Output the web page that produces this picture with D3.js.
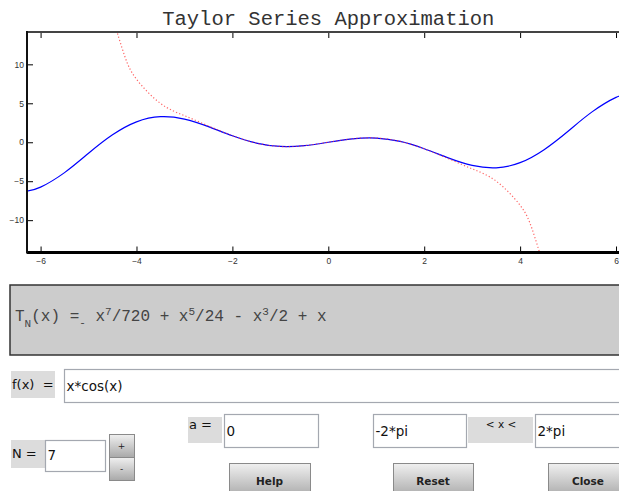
<!DOCTYPE html>
<html>
<head>
<meta charset="utf-8">
<script src="https://cdn.jsdelivr.net/npm/d3@7"></script>
<style>
  body { margin: 0; background: #fff; }
  svg { display: block; }
</style>
</head>
<body>
<svg id="chart" width="619" height="491"></svg>
<script>
// f(x) = x*cos(x)
const xs = [-6.283, -6, -5.5, -5, -4.5, -4, -3.5, -3, -2.5, -2, -1.5, -1, -0.5, 0,
            0.5, 1, 1.5, 2, 2.5, 3, 3.5, 4, 4.5, 5, 5.5, 6, 6.283];
const fVals = [-6.283, -5.761, -3.898, -1.418, 0.949, 2.615, 3.278, 2.970, 2.003, 0.832, -0.106, -0.540, -0.439, 0,
               0.439, 0.540, 0.106, -0.832, -2.003, -2.970, -3.278, -2.615, -0.949, 1.418, 3.898, 5.761, 6.283];

// Taylor polynomial T7
const txs = [-4.5, -4.25, -4, -3.5, -3, -2.5, -2, -1.5, -1, -0.5, 0,
             0.5, 1, 1.5, 2, 2.5, 3, 3.5, 4, 4.25, 4.5];
const tVals = [16.07, 11.14, 8.089, 4.989, 3.413, 2.091, 0.844, -0.105, -0.540, -0.439, 0,
               0.439, 0.540, 0.105, -0.844, -2.091, -3.413, -4.989, -8.089, -11.14, -16.07];

const xTicks = [-6, -4, -2, 0, 2, 4, 6];
const yTicks = [-10, -5, 0, 5, 10];
const xDomain = [-2 * Math.PI, 2 * Math.PI];
const yDomain = [-14.15, 14.15];

const title = 'Taylor Series Approximation';
const fText = 'x*cos(x)';
const nText = '7';
const aText = '0';
const loText = '-2*pi';
const hiText = '2*pi';

const svg = d3.select('#chart');
const pLeft = 27, pTop = 32, pRight = 629.6, pBottom = 252.5;

const x = d3.scaleLinear().domain(xDomain).range([pLeft, pRight]);
const y = d3.scaleLinear().domain(yDomain).range([pBottom, pTop]);

// gradient for buttons
const defs = svg.append('defs');
const grad = defs.append('linearGradient').attr('id', 'btn').attr('x1', 0).attr('y1', 0).attr('x2', 0).attr('y2', 1);
grad.append('stop').attr('offset', '0%').attr('stop-color', '#f0f0f0');
grad.append('stop').attr('offset', '100%').attr('stop-color', '#a8a8a8');
defs.append('clipPath').attr('id', 'plotclip')
  .append('rect').attr('x', pLeft).attr('y', pTop).attr('width', pRight - pLeft).attr('height', pBottom - pTop);

// title
svg.append('text')
  .attr('x', (pLeft + pRight) / 2).attr('y', 25)
  .attr('text-anchor', 'middle')
  .style('font-family', '"Liberation Mono", "Courier New", monospace')
  .style('font-size', '20.5px')
  .attr('fill', '#333')
  .text(title);

// curves
const line = d3.line().x(d => x(d[0])).y(d => y(d[1])).curve(d3.curveNatural);
const plot = svg.append('g').attr('clip-path', 'url(#plotclip)');
plot.append('path')
  .datum(xs.map((v, i) => [v, fVals[i]]))
  .attr('d', line)
  .attr('fill', 'none')
  .attr('stroke', '#0000ff')
  .attr('stroke-width', 1.2);
plot.append('path')
  .datum(txs.map((v, i) => [v, tVals[i]]))
  .attr('d', line)
  .attr('fill', 'none')
  .attr('stroke', '#ff3030')
  .attr('stroke-opacity', 0.75)
  .attr('stroke-width', 1.2)
  .attr('stroke-dasharray', '1.2,2.2');

// axes
const tickFont = g => g.selectAll('text')
  .style('font-family', '"Liberation Sans", Arial, sans-serif')
  .style('font-size', '8.5px')
  .attr('fill', '#333');

svg.append('g')
  .attr('transform', `translate(0,${pBottom})`)
  .call(d3.axisBottom(x).tickValues(xTicks).tickSize(-6).tickSizeOuter(0).tickPadding(5))
  .call(g => g.select('.domain').remove())
  .call(g => g.selectAll('line').attr('stroke', '#000'))
  .call(tickFont);

svg.append('g')
  .attr('transform', `translate(0,${pTop})`)
  .call(d3.axisTop(x).tickValues(xTicks).tickSize(-6).tickSizeOuter(0).tickFormat(''))
  .call(g => g.select('.domain').remove())
  .call(g => g.selectAll('line').attr('stroke', '#000'));

svg.append('g')
  .attr('transform', `translate(${pLeft},0)`)
  .call(d3.axisLeft(y).tickValues(yTicks).tickSize(-6).tickSizeOuter(0).tickPadding(3))
  .call(g => g.select('.domain').remove())
  .call(g => g.selectAll('line').attr('stroke', '#000'))
  .call(tickFont);

// box lines
svg.append('line').attr('x1', pLeft).attr('x2', 619).attr('y1', pTop).attr('y2', pTop)
  .attr('stroke', '#444').attr('stroke-width', 2);
svg.append('line').attr('x1', pLeft).attr('x2', 619).attr('y1', pBottom).attr('y2', pBottom)
  .attr('stroke', '#000').attr('stroke-width', 3);
svg.append('line').attr('x1', pLeft).attr('x2', pLeft).attr('y1', pTop - 1).attr('y2', pBottom + 1)
  .attr('stroke', '#111').attr('stroke-width', 2);

// formula panel
svg.append('rect').attr('x', 10).attr('y', 285).attr('width', 620).attr('height', 70)
  .attr('fill', '#cccccc').attr('stroke', '#333').attr('stroke-width', 1.5);

const mono = '"Liberation Mono", "Courier New", monospace';
const ft = svg.append('text').attr('x', 15).attr('y', 321)
  .style('font-family', mono).style('font-size', '16px').attr('fill', '#444')
  .attr('xml:space', 'preserve');
const parts = [
  ['T', 16, 0], ['N', 11, 6], ['(x) =', 16, -6], ['-', 11, 5], [' x', 16, -5],
  ['7', 11, -6], ['/720 + x', 16, 6], ['5', 11, -6], ['/24 - x', 16, 6],
  ['3', 11, -6], ['/2 + x', 16, 6]
];
parts.forEach(p => ft.append('tspan').style('font-size', p[1] + 'px').attr('dy', p[2]).text(p[0]));

// widgets
const sans = '"DejaVu Sans", Verdana, sans-serif';
function label(x0, y0, w, h, txt, tx, ty, size, anchor) {
  svg.append('rect').attr('x', x0).attr('y', y0).attr('width', w).attr('height', h).attr('fill', '#dcdcdc');
  svg.append('text').attr('x', tx).attr('y', ty).attr('text-anchor', anchor || 'start')
    .attr('xml:space', 'preserve')
    .style('font-family', sans).style('font-size', size + 'px').attr('fill', '#111').text(txt);
}
function edit(x0, y0, w, h, txt, ty) {
  svg.append('rect').attr('x', x0 + 0.5).attr('y', y0 + 0.5).attr('width', w).attr('height', h)
    .attr('fill', '#fff').attr('stroke', '#a4a8b0').attr('stroke-width', 1.2);
  svg.append('text').attr('x', x0 + 2.5).attr('y', ty)
    .style('font-family', sans).style('font-size', '13.5px').attr('fill', '#111').text(txt);
}
function button(x0, y0, w, h, txt, ty, size, bold) {
  svg.append('rect').attr('x', x0 + 0.5).attr('y', y0 + 0.5).attr('width', w).attr('height', h)
    .attr('fill', 'url(#btn)').attr('stroke', '#8a8a8a').attr('stroke-width', 1);
  svg.append('text').attr('x', x0 + w / 2).attr('y', ty).attr('text-anchor', 'middle')
    .style('font-family', sans).style('font-size', size + 'px')
    .style('font-weight', bold ? 'bold' : 'normal').attr('fill', '#222').text(txt);
}

label(11, 371, 44, 27, 'f(x)  =', 12, 389, 13);
edit(64, 369, 570, 33, fText, 391);

label(11, 440, 34, 28, 'N =', 12, 458, 13);
edit(45, 440, 60, 31, nText, 460);
button(109, 434, 25, 23, '+', 449, 9, false);
button(109, 457, 25, 23, '-', 472, 9, false);

label(188, 417, 34, 26, 'a =', 189, 429, 13);
edit(224, 414, 94, 33, aText, 436);

edit(373, 414, 93, 33, loText, 436);
label(468, 417, 65, 26, '< x <', 501, 428, 10.5, 'middle');
edit(535, 414, 94, 33, hiText, 436);

button(229, 463, 81, 34, 'Help', 485, 10.5, true);
button(393, 463, 80, 34, 'Reset', 485, 10.5, true);
button(548, 463, 80, 34, 'Close', 485, 10.5, true);
</script>
</body>
</html>
